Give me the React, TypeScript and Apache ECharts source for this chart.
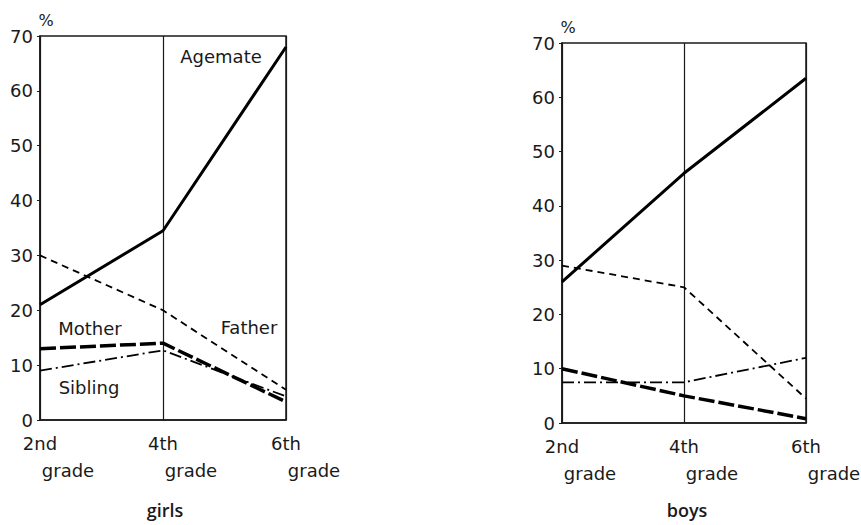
import React, { useEffect, useRef } from "react";
import * as echarts from "echarts";

const grades = ["2nd", "4th", "6th"];
const yTicks = [0, 10, 20, 30, 40, 50, 60, 70];

const girlsAgemate = [21, 34.5, 68];
const girlsFather = [30, 20, 5.5];
const girlsMother = [13, 14, 3.3];
const girlsSibling = [9, 12.7, 4.3];

const boysAgemate = [26, 46, 63.5];
const boysFather = [29, 25, 4.5];
const boysMother = [10, 5, 0.8];
const boysSibling = [7.5, 7.5, 12];

const FONT = "DejaVu Sans";
const INK = "#1a1a1a";

export default function App() {
  const ref = useRef<HTMLDivElement>(null);
  useEffect(() => {
    const chart = echarts.init(ref.current!, null, { renderer: "svg" });
    const xAxisBase = (gridIndex: number) => ({
      type: "category",
      gridIndex,
      data: grades,
      boundaryGap: false,
      axisLine: { show: true, lineStyle: { color: INK, width: 1.5 } },
      axisTick: { show: false },
      splitLine: { show: true, lineStyle: { color: INK, width: 1.2 } },
      axisLabel: {
        margin: 10,
        formatter: (v: string) => `{a|${v}}\n{b|grade}`,
        rich: {
          a: { fontSize: 18, fontFamily: FONT, color: INK, lineHeight: 27 },
          b: { fontSize: 18, fontFamily: FONT, color: INK, lineHeight: 27, padding: [0, 0, 0, 56] },
        },
      },
    });
    const yAxisBase = (gridIndex: number) => ({
      type: "value",
      gridIndex,
      min: 0,
      max: 70,
      interval: 10,
      name: "%",
      nameLocation: "end",
      nameGap: 8,
      nameTextStyle: { fontSize: 16, fontFamily: FONT, color: INK, padding: [0, 0, 0, 12] },
      axisLine: { show: true, lineStyle: { color: INK, width: 1.5 } },
      axisTick: { show: true, inside: false, length: 3, lineStyle: { color: INK } },
      splitLine: { show: false },
      axisLabel: {
        fontSize: 18,
        fontFamily: FONT,
        color: INK,
        margin: 7,
        formatter: (v: number) => (yTicks.includes(v) ? String(v) : ""),
      },
    });
    const line = (name: string, idx: number, data: number[], width: number, type: any) => ({
      name,
      type: "line",
      xAxisIndex: idx,
      yAxisIndex: idx,
      data,
      symbol: "none",
      lineStyle: { color: "#000", width, type },
      silent: true,
    });
    const text = (t: string, x: number, y: number) => ({
      type: "text",
      x,
      y,
      style: {
        text: t,
        fontSize: 18,
        fontFamily: FONT,
        fill: INK,
        textAlign: "center",
        textVerticalAlign: "middle",
      },
    });
    const gridBase = { show: true, borderColor: INK, borderWidth: 1.5, backgroundColor: "transparent", containLabel: false, outerBoundsMode: "none" };
    chart.setOption({
      animation: false,
      backgroundColor: "#fff",
      grid: [
        { ...gridBase, left: 40, top: 36, width: 246, height: 384 },
        { ...gridBase, left: 562, top: 43, width: 244, height: 380 },
      ],
      xAxis: [xAxisBase(0), xAxisBase(1)],
      yAxis: [yAxisBase(0), yAxisBase(1)],
      series: [
        line("Agemate", 0, girlsAgemate, 3, "solid"),
        line("Father", 0, girlsFather, 1.8, [7, 5]),
        line("Mother", 0, girlsMother, 3.5, [16, 4]),
        line("Sibling", 0, girlsSibling, 1.8, [12, 4, 2, 4]),
        line("Agemate", 1, boysAgemate, 3, "solid"),
        line("Father", 1, boysFather, 1.8, [7, 5]),
        line("Mother", 1, boysMother, 3.5, [16, 4]),
        line("Sibling", 1, boysSibling, 1.8, [12, 4, 2, 4]),
      ],
      graphic: [
        text("Agemate", 221, 56),
        text("Father", 249, 327),
        text("Mother", 90, 328),
        text("Sibling", 89, 387),
        {
          type: "text",
          x: 165,
          y: 510,
          style: { text: "girls", fontSize: 18, fontFamily: "Open Sans", fontWeight: 600, fill: INK, textAlign: "center", textVerticalAlign: "middle" },
        },
        {
          type: "text",
          x: 687,
          y: 510,
          style: { text: "boys", fontSize: 18, fontFamily: "Open Sans", fontWeight: 600, fill: INK, textAlign: "center", textVerticalAlign: "middle" },
        },
      ],
    });
    return () => chart.dispose();
  }, []);
  return <div ref={ref} style={{ position: "fixed", left: 0, top: 0, width: 861, height: 525 }} />;
}
